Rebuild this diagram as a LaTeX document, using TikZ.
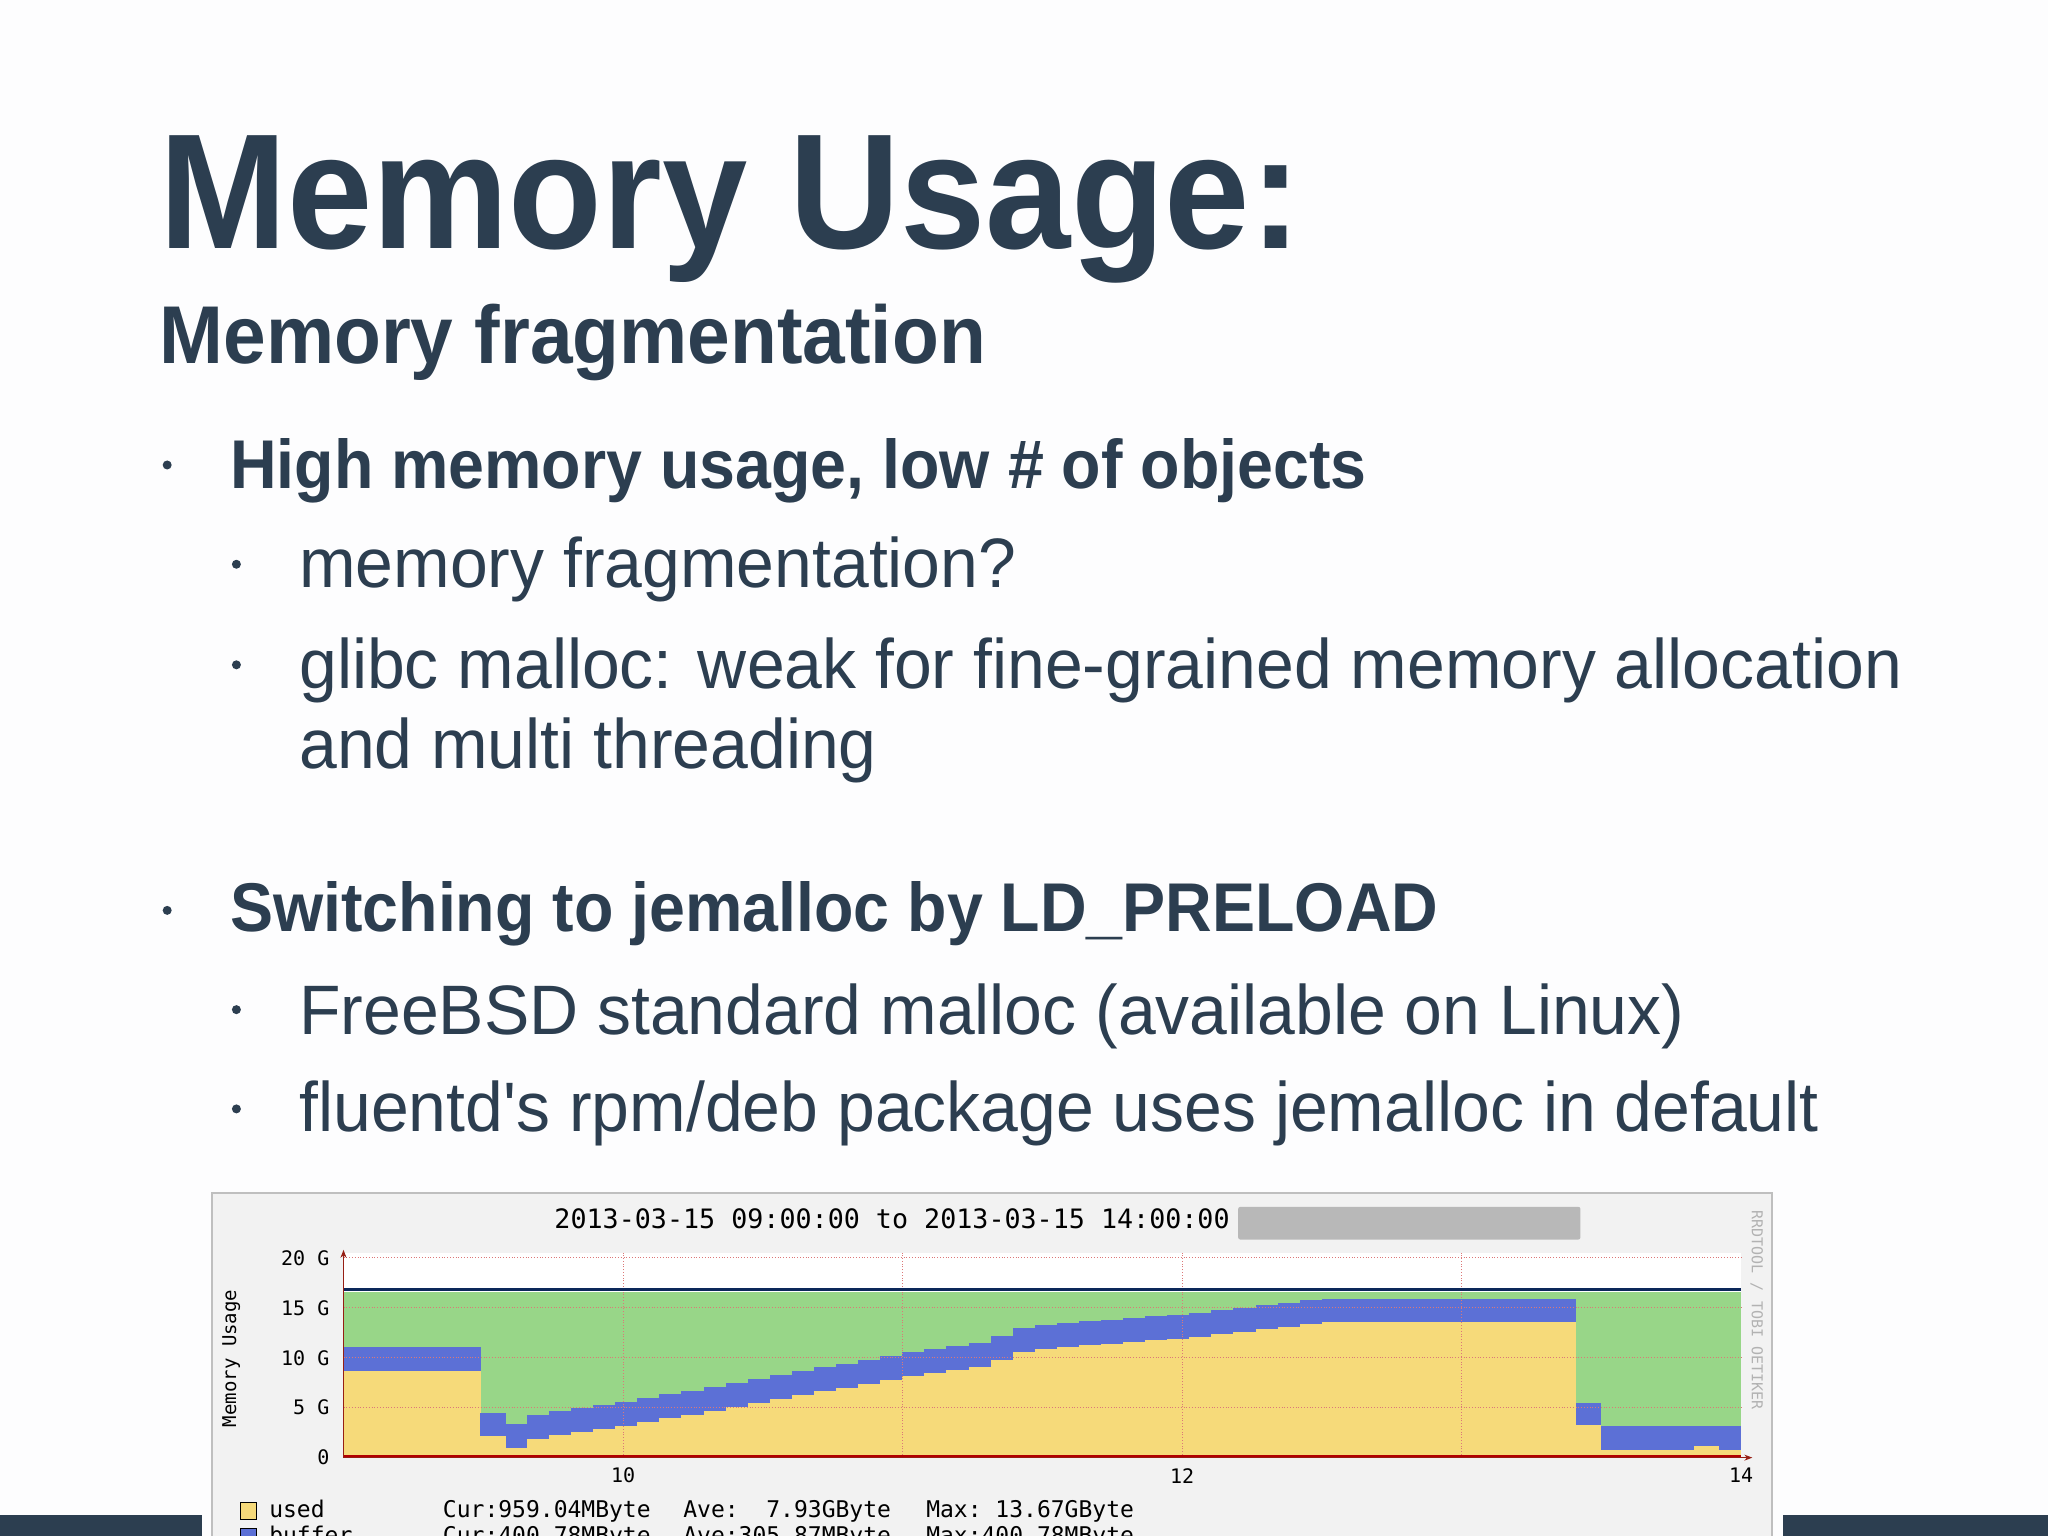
\documentclass[tikz,border=0pt]{standalone}
\usepackage{fontspec}
\setmainfont{Liberation Sans}[FakeStretch=0.97]
\newfontfamily\hb{Liberation Sans}[FakeStretch=0.935]
\newfontfamily\chartfont{DejaVu Sans Mono}
\usetikzlibrary{arrows.meta}
\definecolor{txt}{RGB}{44,62,80}
\definecolor{bgc}{RGB}{253,253,254}
\definecolor{barc}{RGB}{44,62,80}
\definecolor{chartbg}{RGB}{242,242,242}
\definecolor{uyel}{RGB}{246,218,122}
\definecolor{ublue}{RGB}{92,112,214}
\definecolor{ugreen}{RGB}{152,214,136}
\definecolor{navyl}{RGB}{12,40,90}
\definecolor{gridc}{RGB}{220,120,120}
\definecolor{axisc}{RGB}{150,30,20}
\tikzset{
 tline/.style={anchor=base west, inner sep=0pt, text=txt},
 bdot/.style={fill=txt, circle, inner sep=0pt, minimum size=9pt},
 cf/.style={inner sep=0pt, text=black, font=\chartfont\fontsize{20}{20}\selectfont},
 lg/.style={anchor=base west, inner sep=0pt, text=black, font=\chartfont\fontsize{23}{23}\selectfont}
}
\begin{document}
\begin{tikzpicture}[x=1.306pt,y=-1.306pt]
\useasboundingbox (0,0) rectangle (1568,1176);
\clip (0,0) rectangle (1568,1176);
\fill[bgc] (0,0) rectangle (1568,1176);
\fill[barc] (0,1160) rectangle (155,1176);
\fill[barc] (1365,1160) rectangle (1568,1176);
% texts
\node[tline, font=\hb\bfseries\fontsize{164}{164}\selectfont] (title) at (122,190) {Memory Usage:};
\node[tline, font=\hb\bfseries\fontsize{82}{82}\selectfont] (sub) at (122,278) {Memory fragmentation};
\node[bdot] (d1) at (128,356) {};
\node[tline, font=\hb\bfseries\fontsize{69}{69}\selectfont] (b1) at (176,374) {High memory usage, low \# of objects};
\node[bdot] (d2) at (181,432) {};
\node[tline, font=\fontsize{70}{70}\selectfont] (s1) at (229,450) {memory fragmentation?};
\node[bdot] (d3) at (181,509) {};
\node[tline, font=\fontsize{70}{70}\selectfont] (s2) at (229,527) {glibc malloc: weak for fine-grained memory allocation};
\node[tline, font=\fontsize{70}{70}\selectfont] (s2b) at (229,588) {and multi threading};
\node[bdot] (d4) at (128,697) {};
\node[tline, font=\hb\bfseries\fontsize{69}{69}\selectfont] (b2) at (176,713) {Switching to jemalloc by LD\_PRELOAD};
\node[bdot] (d5) at (181,773) {};
\node[tline, font=\fontsize{70}{70}\selectfont] (s3) at (229,792) {FreeBSD standard malloc (available on Linux)};
\node[bdot] (d6) at (181,849) {};
\node[tline, font=\fontsize{70}{70}\selectfont] (s4) at (229,866) {fluentd\textquotesingle s rpm/deb package uses jemalloc in default};
% chart
\filldraw[fill=chartbg, draw=black!25, line width=2pt] (162,913) rectangle (1357,1195);
\node[cf, font=\chartfont\fontsize{26.7}{26.7}\selectfont] (ct) at (683,933) {2013-03-15 09:00:00 to 2013-03-15 14:00:00};
\fill[black!28, rounded corners=2pt] (948,924) rectangle (1210,949);
\node[cf, rotate=90, font=\chartfont\fontsize{19}{19}\selectfont] (yt) at (177,1040) {Memory Usage};
\node[cf, rotate=-90, text=black!30, font=\chartfont\fontsize{15}{15}\selectfont] (rrd) at (1345,1003) {RRDTOOL / TOBI OETIKER};
\begin{scope}[shift={(263,1116)}, x=279.5pt, y=9.991pt]
 \fill[white] (0,0) rectangle (5,20.5);
 \fill[ugreen] (0,0) rectangle (5,16.6);
 \fill[uyel] (0,0) rectangle (0.492,8.66); \fill[ublue] (0,8.66) rectangle (0.492,11.07);
 \fill[uyel] (0.49,0) rectangle (0.583,2.2); \fill[ublue] (0.49,2.2) rectangle (0.583,4.5);
 \fill[uyel] (0.58,0) rectangle (0.656,1.0); \fill[ublue] (0.58,1.0) rectangle (0.656,3.4);
 \foreach \i in {0,...,35} {
  \pgfmathsetmacro\hh{0.656+\i*0.079}
  \pgfmathsetmacro\uu{\hh<1.002 ? 1.9+(\hh-0.656)/0.346*1.4 : (\hh<2.004 ? 3.3+(\hh-1.002)/1.002*4.9 : (\hh<2.26 ? 8.2+(\hh-2.004)/0.256*1.0 : (\hh<2.42 ? 9.2+(\hh-2.26)/0.16*1.6 : (\hh<2.99 ? 10.8+(\hh-2.42)/0.57*1.2 : 12+(\hh-2.99)/0.51*1.6))))}
  \fill[uyel] (\hh,0) rectangle ({\hh+0.081},\uu);
  \fill[ublue] (\hh,\uu) rectangle ({\hh+0.081},{\uu+2.4});
 }
 \fill[uyel] (3.5,0) rectangle (4.41,13.6); \fill[ublue] (3.5,13.6) rectangle (4.41,15.9);
 \fill[uyel] (4.41,0) rectangle (4.50,3.3); \fill[ublue] (4.41,3.3) rectangle (4.50,5.5);
 \fill[uyel] (4.50,0) rectangle (5,0.8); \fill[ublue] (4.50,0.8) rectangle (5,3.2);
 \fill[uyel] (4.83,0.8) rectangle (4.92,1.2);
 \foreach \g in {5,10,15,20} \draw[gridc, dotted, line width=0.8pt] (0,\g) -- (5,\g);
 \foreach \g in {1,2,3,4} \draw[gridc, dotted, line width=0.8pt] (\g,0) -- (\g,20.5);
 \draw[navyl, line width=3pt] (0,16.8) -- (5,16.8);
 \draw[red!70!black, line width=2.5pt] (0,0.15) -- (5,0.15);
 \draw[axisc, line width=1pt, -{Stealth[length=8pt]}] (0,0) -- (5.04,0);
 \draw[axisc, line width=1pt, -{Stealth[length=8pt]}] (0,0) -- (0,20.8);
 \foreach \g/\l in {0/0,5/5 G,10/10 G,15/15 G,20/20 G} \node[cf, anchor=east] (yl\g) at (-0.05,\g) {\l};
 \foreach \t/\l in {1/10,3/12,5/14} \node[cf] (xl\t) at (\t,-1.8) {\l};
\end{scope}
\filldraw[fill=uyel, draw=black, line width=1pt] (184,1150) rectangle (196,1163);
\node[lg] (lu) at (206,1162) {used};
\node[lg] (lu1) at (339,1162) {Cur:959.04MByte};
\node[lg] (lu2) at (523,1162) {Ave:\ \ 7.93GByte};
\node[lg] (lu3) at (709,1162) {Max:\ 13.67GByte};
\filldraw[fill=ublue, draw=black, line width=1pt] (184,1170) rectangle (196,1183);
\node[lg] (lb) at (206,1182) {buffer};
\node[lg] (lb1) at (339,1182) {Cur:400.78MByte};
\node[lg] (lb2) at (523,1182) {Ave:305.87MByte};
\node[lg] (lb3) at (709,1182) {Max:400.78MByte};
\end{tikzpicture}
\end{document}
